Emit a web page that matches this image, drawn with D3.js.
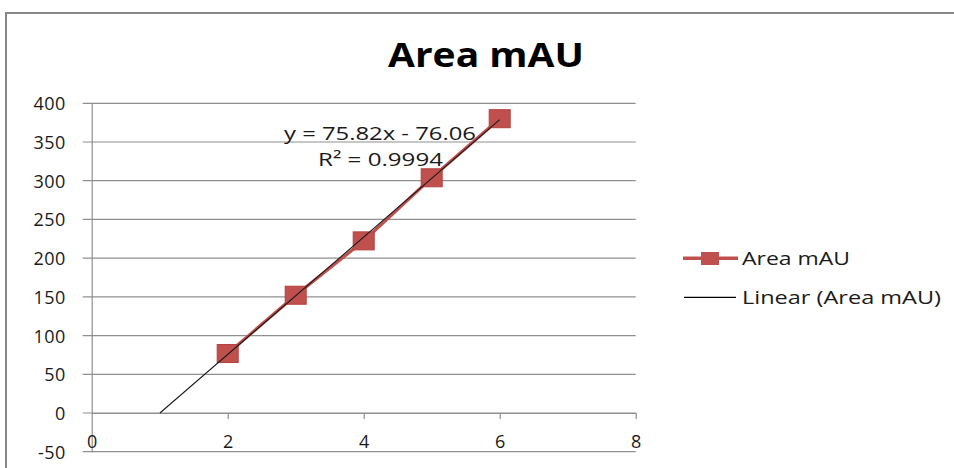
<!DOCTYPE html>
<html>
<head>
<meta charset="utf-8">
<script src="https://cdn.jsdelivr.net/npm/d3@7"></script>
<style>
  html, body { margin: 0; padding: 0; background: #fff; }
  svg { display: block; }
  text { font-family: "Open Sans", "DejaVu Sans", sans-serif; fill: #1a1a1a; }
</style>
</head>
<body>
<svg id="chart" width="954" height="468"></svg>
<script>
// ---- data ----
const xValues = [2, 3, 4, 5, 6];
const areaValues = [76.8, 152.1, 222.3, 303.8, 380.1];
const xTicks = [0, 2, 4, 6, 8];
const yTicks = [-50, 0, 50, 100, 150, 200, 250, 300, 350, 400];
const trendSlope = [75.82];
const trendIntercept = [-76.06];
const trendLabels = ["y = 75.82x - 76.06", "R² = 0.9994"];
const seriesNames = ["Area mAU", "Linear (Area mAU)"];
const chartTitle = ["Area mAU"];

// ---- layout ----
const svg = d3.select("#chart");
const W = 954, H = 468;
const x = d3.scaleLinear().domain([0, 8]).range([91.7, 635.7]);
const y = d3.scaleLinear().domain([-50, 400]).range([451.7, 103.3]);
const red = "#C0504D";
const gridColor = "#8f8f8f";
const fmt = d => String(d);

// frame
svg.append("rect")
  .attr("x", 6).attr("y", 13).attr("width", W + 10).attr("height", H + 10)
  .attr("fill", "#fff").attr("stroke", "#868686").attr("stroke-width", 2);

// title
svg.append("text")
  .attr("x", 486).attr("y", 67)
  .attr("text-anchor", "middle")
  .attr("font-size", 34).attr("font-weight", "bold")
  .attr("textLength", 196).attr("lengthAdjust", "spacingAndGlyphs")
  .style("fill", "#000")
  .text(chartTitle[0]);

// gridlines (horizontal)
svg.append("g").selectAll("line")
  .data(yTicks)
  .join("line")
  .attr("x1", x(0) - 9).attr("x2", x(8))
  .attr("y1", d => y(d)).attr("y2", d => y(d))
  .attr("stroke", gridColor).attr("stroke-width", 1.2);

// y axis
const yAxis = svg.append("g")
  .attr("transform", `translate(${x(0)},0)`)
  .call(d3.axisLeft(y).tickValues(yTicks).tickFormat(fmt).tickSize(0).tickSizeOuter(0).tickPadding(0));
yAxis.select(".domain").attr("stroke", gridColor).attr("stroke-width", 1.2);
yAxis.selectAll(".tick text")
  .attr("x", -26).attr("dy", "0.36em")
  .attr("font-size", 18).attr("letter-spacing", 0.4)
  .style("font-family", "'Open Sans', sans-serif").style("fill", "#1a1a1a");

// x axis (at y = 0)
const xAxis = svg.append("g")
  .attr("transform", `translate(0,${y(0)})`)
  .call(d3.axisBottom(x).tickValues(xTicks).tickFormat(fmt).tickSize(6).tickSizeOuter(0));
xAxis.select(".domain").attr("stroke", gridColor).attr("stroke-width", 1.2);
xAxis.selectAll(".tick line").attr("stroke", gridColor).attr("stroke-width", 1.2)
  .attr("opacity", d => d === 0 ? 0 : 1);
xAxis.selectAll(".tick text")
  .attr("y", 35).attr("dy", 0)
  .attr("font-size", 18)
  .style("font-family", "'Open Sans', sans-serif").style("fill", "#1a1a1a");

// series line
const pts = xValues.map((v, i) => [v, areaValues[i]]);
svg.append("path")
  .datum(pts)
  .attr("fill", "none")
  .attr("stroke", red).attr("stroke-width", 3.2)
  .attr("stroke-linejoin", "round")
  .attr("d", d3.line().x(d => x(d[0])).y(d => y(d[1])));

// markers
const mw = 21, mh = 18;
svg.append("g").selectAll("rect")
  .data(pts)
  .join("rect")
  .attr("x", d => x(d[0]) - mw / 2).attr("y", d => y(d[1]) - mh / 2)
  .attr("width", mw).attr("height", mh)
  .attr("fill", red).attr("stroke", "#b3403d").attr("stroke-width", 1);

// linear trendline
const tx0 = -trendIntercept[0] / trendSlope[0];
const tx1 = d3.max(xValues);
svg.append("path")
  .datum([tx0, tx1])
  .attr("fill", "none").attr("stroke", "#1a1a1a").attr("stroke-width", 1.1)
  .attr("d", d3.line().x(d => x(d)).y(d => y(trendSlope[0] * d + trendIntercept[0])));

// trendline label
svg.append("text")
  .attr("x", 284).attr("y", 140)
  .attr("font-size", 18.5)
  .attr("textLength", 192).attr("lengthAdjust", "spacingAndGlyphs")
  .text(trendLabels[0]);
svg.append("text")
  .attr("x", 318).attr("y", 166)
  .attr("font-size", 18.5)
  .attr("textLength", 125).attr("lengthAdjust", "spacingAndGlyphs")
  .text(trendLabels[1]);

// legend
const lg = svg.append("g");
lg.append("line").attr("x1", 683).attr("x2", 738).attr("y1", 258.3).attr("y2", 258.3)
  .attr("stroke", red).attr("stroke-width", 3.5);
lg.append("rect").attr("x", 701).attr("y", 252).attr("width", 18).attr("height", 13)
  .attr("fill", red);
lg.append("text").attr("x", 742).attr("y", 264.5)
  .attr("font-size", 18.5)
  .attr("textLength", 108).attr("lengthAdjust", "spacingAndGlyphs")
  .text(seriesNames[0]);
lg.append("line").attr("x1", 684).attr("x2", 736).attr("y1", 297.3).attr("y2", 297.3)
  .attr("stroke", "#000").attr("stroke-width", 1.2);
lg.append("text").attr("x", 742).attr("y", 303.5)
  .attr("font-size", 18.5)
  .attr("textLength", 199).attr("lengthAdjust", "spacingAndGlyphs")
  .text(seriesNames[1]);
</script>
</body>
</html>
